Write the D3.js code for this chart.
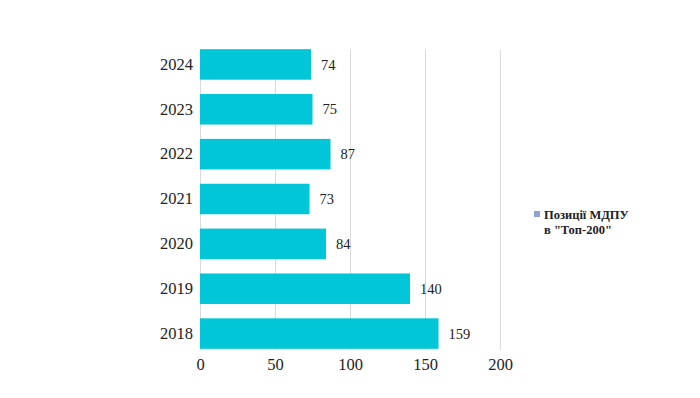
<!DOCTYPE html>
<html>
<head>
<meta charset="utf-8">
<style>
  body { margin: 0; background: #fff; }
  svg { display: block; font-family: "Liberation Serif", "Times New Roman", serif; }
  .grid line { stroke: #d9d9d9; stroke-width: 1; }
  .axis text { font-size: 16.5px; fill: #222; }
  .axis path, .axis line { display: none; }
  .bar { fill: #00c6d7; }
  .val { font-size: 14.5px; fill: #222; }
  .legend text { font-size: 12.5px; font-weight: bold; fill: #222; }
</style>
</head>
<body>
<svg width="700" height="398"></svg>
<script src="https://cdn.jsdelivr.net/npm/d3@7"></script>
<script>
// data
var years = ["2024", "2023", "2022", "2021", "2020", "2019", "2018"];
var positions = [74, 75, 87, 73, 84, 140, 159];
var xTicks = [0, 50, 100, 150, 200];
var seriesName = ["Позиції МДПУ", "в \"Топ-200\""];

var data = years.map(function(y, i) { return {year: y, value: positions[i]}; });

var svg = d3.select("svg");

var x = d3.scaleLinear().domain([0, 200]).range([200, 500]);
var y = d3.scaleBand().domain(years).range([42, 356]).paddingInner(0.32).paddingOuter(0.16);

var gridTop = 50, gridBottom = 350;

// gridlines
svg.append("g")
    .attr("class", "grid")
    .selectAll("line")
    .data(xTicks)
    .enter().append("line")
    .attr("x1", function(d) { return x(d) + 0.5; })
    .attr("x2", function(d) { return x(d) + 0.5; })
    .attr("y1", gridTop)
    .attr("y2", gridBottom);

// bars
svg.append("g")
    .selectAll("rect")
    .data(data)
    .enter().append("rect")
    .attr("class", "bar")
    .attr("x", x(0))
    .attr("y", function(d) { return y(d.year); })
    .attr("width", function(d) { return x(d.value) - x(0); })
    .attr("height", y.bandwidth());

// value labels
svg.append("g")
    .selectAll("text")
    .data(data)
    .enter().append("text")
    .attr("class", "val")
    .attr("x", function(d) { return x(d.value) + 10; })
    .attr("y", function(d) { return y(d.year) + y.bandwidth() / 2; })
    .attr("dy", "0.35em")
    .text(function(d) { return d.value; });

// axes
svg.append("g")
    .attr("class", "axis")
    .attr("transform", "translate(0," + gridBottom + ")")
    .call(d3.axisBottom(x).tickValues(xTicks).tickSize(0).tickPadding(8))
    .attr("font-family", null)
    .attr("font-size", null);

svg.append("g")
    .attr("class", "axis")
    .attr("transform", "translate(" + x(0) + ",0)")
    .call(d3.axisLeft(y).tickSize(0).tickPadding(7))
    .attr("font-family", null)
    .attr("font-size", null);

// legend
var legend = svg.append("g").attr("class", "legend");
legend.append("rect")
    .attr("x", 534)
    .attr("y", 211)
    .attr("width", 6)
    .attr("height", 6)
    .attr("fill", "#8ea3d6");
legend.selectAll("text")
    .data(seriesName)
    .enter().append("text")
    .attr("x", 544)
    .attr("y", function(d, i) { return 219 + i * 15; })
    .text(function(d) { return d; });
</script>
</body>
</html>
